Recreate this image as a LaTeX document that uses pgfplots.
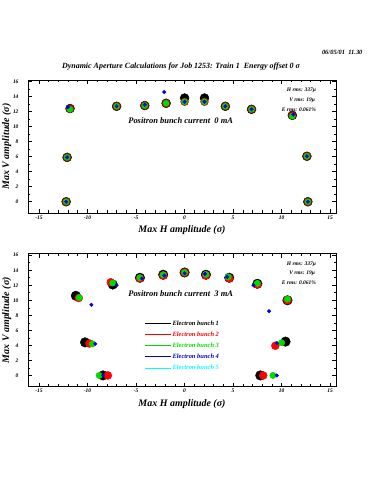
\documentclass[border=0pt]{standalone}
\usepackage{fontspec}
\setmainfont{Liberation Serif}
\usepackage{pgfplots}
\pgfplotsset{compat=1.18}
\definecolor{cgreen}{rgb}{0,0.85,0}
\definecolor{cblue}{rgb}{0,0,0.85}
\definecolor{ccyan}{rgb}{0,1,1}
\newcommand{\bi}{\bfseries\itshape}
\pgfplotsset{dapstyle/.style={
  scale only axis, width=308bp, height=133bp,
  xmin=-16.13, xmax=15.6, ymin=-1.5, ymax=16.2,
  xtick={-15,-10,-5,0,5,10,15}, ytick={0,2,4,6,8,10,12,14,16},
  minor x tick num=4, minor y tick num=1,
  major tick length=4bp, minor tick length=2.5bp,
  axis line style={line width=0.8pt},
  every tick/.style={black, line width=0.6pt},
  /pgf/number format/assume math mode=true,
  tick label style={font=\fontsize{5.5}{6}\selectfont\bi},
  xticklabel style={yshift=1bp},
  yticklabel style={xshift=-6bp},
  xlabel={Max H amplitude (σ)},
  ylabel={Max V amplitude (σ)},
  label style={font=\fontsize{10}{12}\selectfont\bi},
  xlabel style={yshift=0bp},
  ylabel style={yshift=-5bp},
  clip=false,
}}
\begin{document}
\begin{tikzpicture}
\path[use as bounding box] (0,0) rectangle (375bp,500bp);
\node[font=\fontsize{6.5}{7}\selectfont\bi, anchor=east] at (366bp,448bp) {06/05/01\ \ 11.30};
\node[font=\fontsize{8}{9}\selectfont\bi] at (181bp,433bp) {Dynamic Aperture Calculations for Job 1253: Train 1\ \ Energy offset 0 σ};
% top panel
\begin{axis}[dapstyle, at={(28bp,287bp)}, anchor=south west]
\addplot[only marks, mark=*, mark size=4.5pt, black] coordinates {
(-12.2,0) (-12.1,5.9) (-11.8,12.4) (-7.0,12.7) (-4.1,12.8) (-1.9,13.1) (0,13.8) (2.05,13.8) (4.2,12.7) (6.9,12.3) (11.1,11.5) (12.6,6.05) (12.7,0)};
\addplot[only marks, mark=*, mark size=3.9pt, red!75!black] coordinates {
(-12.2,0) (-12.1,5.9) (-11.8,12.4) (-7.0,12.7) (-4.1,12.8) (-1.9,13.1) (0,13.3) (2.05,13.3) (4.2,12.7) (6.9,12.3) (11.1,11.5) (12.6,6.05) (12.7,0)};
\addplot[only marks, mark=*, mark size=3.1pt, cgreen] coordinates {
(-12.2,0) (-12.1,5.9) (-11.8,12.3) (-7.0,12.7) (-4.1,12.8) (-1.9,13.1) (0,13.3) (2.05,13.3) (4.2,12.7) (6.9,12.3) (11.1,11.4) (12.6,6.05) (12.7,0)};
\addplot[only marks, mark=*, mark size=1.8pt, cblue] coordinates {
(-12.2,0) (-12.1,5.9) (-12.0,12.6) (-7.0,12.7) (-4.1,12.9) (-2.1,14.6) (0,13.3) (2.05,13.3) (4.2,12.7) (6.9,12.3) (11.2,11.6) (12.6,6.05) (12.7,0)};
\node[font=\fontsize{8.5}{10}\selectfont\bi] at (axis cs:-0.4,10.8) {Positron bunch current\ \ 0 mA};
\node[font=\fontsize{5.5}{6}\selectfont\bi, anchor=east] at (axis cs:13.9,14.8) {H rms: 337μ};
\node[font=\fontsize{5.5}{6}\selectfont\bi, anchor=east] at (axis cs:13.8,13.55) {V rms: 19μ};
\node[font=\fontsize{5.5}{6}\selectfont\bi, anchor=east] at (axis cs:13.9,12.3) {E rms: 0.061\%};
\end{axis}
% bottom panel
\begin{axis}[dapstyle, at={(28bp,113.3bp)}, anchor=south west,
  legend style={at={(axis cs:-4.45,7.75)}, anchor=north west, draw=none, fill=none,
    font=\fontsize{6.5}{7}\selectfont\bi, row sep=2.6bp,
    nodes={inner sep=1bp, text height=5bp, text depth=1.5bp}},
  legend cell align=left,
  legend image code/.code={\draw[#1] (0bp,0bp) -- (16bp,0bp); \path (0bp,0bp) -- (26bp,0bp);}]
\addplot[only marks, mark=*, mark size=4.8pt, black, forget plot] coordinates {
(-11.2,10.6) (-10.25,4.4) (-8.4,0) (-7.4,12.1) (-4.6,13.0) (-2.2,13.4) (0,13.7) (2.2,13.4) (4.6,13.0) (7.5,12.2) (10.6,10.0) (10.4,4.5) (7.8,0)};
\addplot[only marks, mark=*, mark size=4.0pt, red, forget plot] coordinates {
(-10.9,10.3) (-9.8,4.25) (-7.9,0) (-7.6,12.4) (-4.6,12.9) (-2.2,13.3) (0,13.7) (2.2,13.3) (4.6,12.9) (7.5,12.1) (10.6,10.0) (9.35,3.95) (8.1,0)};
\addplot[only marks, mark=*, mark size=3.2pt, cgreen, forget plot] coordinates {
(-10.85,10.35) (-9.5,4.2) (-8.8,0) (-7.4,12.3) (-4.6,13.0) (-2.2,13.4) (0,13.7) (2.2,13.45) (4.5,13.1) (7.5,12.25) (10.6,10.15) (10.0,4.35) (9.1,0)};
\addplot[only marks, mark=*, mark size=1.8pt, cblue, forget plot] coordinates {
(-9.6,9.4) (-9.2,4.2) (-8.4,0) (-7.0,12.0) (-4.4,12.9) (-2.1,13.3) (0,13.6) (2.1,13.5) (4.4,13.1) (7.1,12.0) (8.7,8.55) (9.5,4.3) (9.5,0)};
\addlegendimage{black, line width=1pt}
\addlegendentry{\textcolor{black}{Electron bunch 1}}
\addlegendimage{red, line width=1pt}
\addlegendentry{\textcolor{red}{Electron bunch 2}}
\addlegendimage{cgreen, line width=1pt}
\addlegendentry{\textcolor{cgreen}{Electron bunch 3}}
\addlegendimage{cblue, line width=1pt}
\addlegendentry{\textcolor{cblue}{Electron bunch 4}}
\addlegendimage{ccyan, line width=1pt}
\addlegendentry{\textcolor{ccyan}{Electron bunch 5}}
\node[font=\fontsize{8.5}{10}\selectfont\bi] at (axis cs:-0.4,10.9) {Positron bunch current\ \ 3 mA};
\node[font=\fontsize{5.5}{6}\selectfont\bi, anchor=east] at (axis cs:13.9,14.8) {H rms: 337μ};
\node[font=\fontsize{5.5}{6}\selectfont\bi, anchor=east] at (axis cs:13.8,13.55) {V rms: 19μ};
\node[font=\fontsize{5.5}{6}\selectfont\bi, anchor=east] at (axis cs:13.9,12.3) {E rms: 0.061\%};
\end{axis}
\end{tikzpicture}
\end{document}
